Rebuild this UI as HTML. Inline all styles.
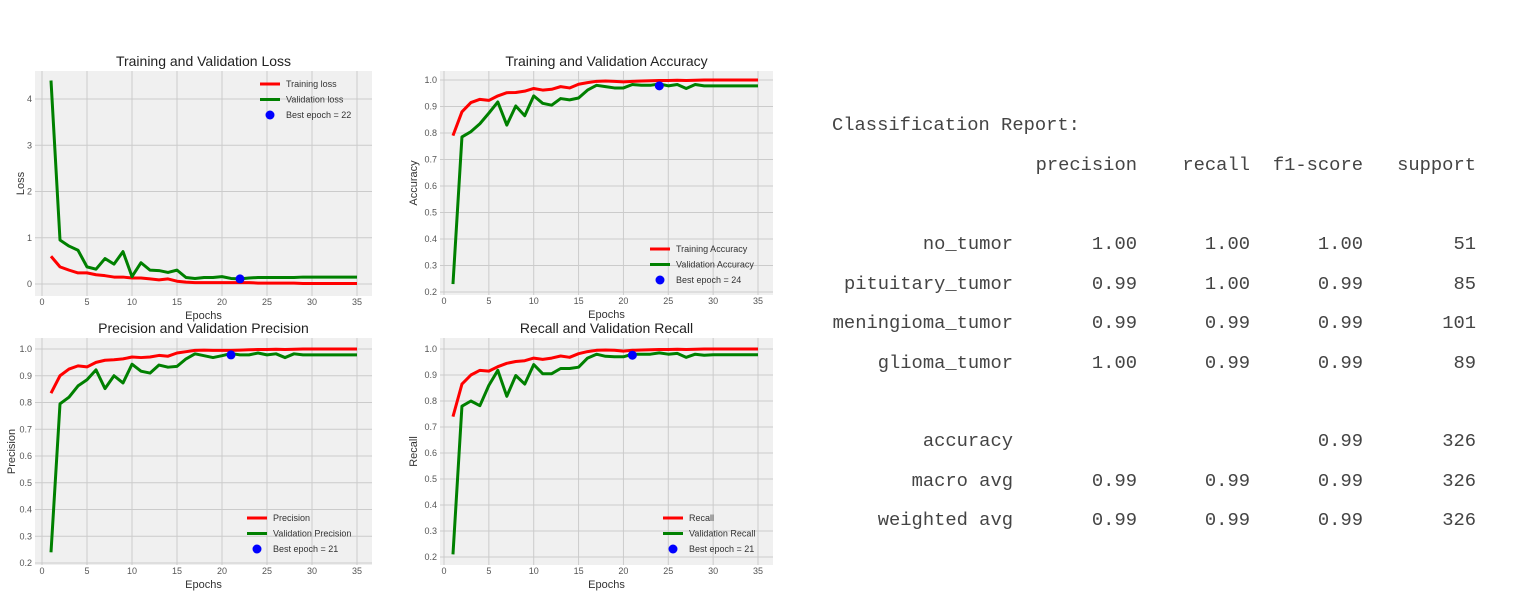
<!DOCTYPE html>
<html><head><meta charset="utf-8">
<style>
html,body{margin:0;padding:0;background:#fff;}
body{width:1528px;height:616px;position:relative;overflow:hidden;font-family:"Liberation Sans",sans-serif;}
#charts{position:absolute;left:0;top:0;}
.rep{position:absolute;font-family:"Liberation Mono",monospace;font-size:18.8px;color:#444;white-space:pre;line-height:1;}
.r{text-align:right;}
</style></head><body>
<svg id="charts" width="800" height="616"></svg>

<div class="rep" style="left:832px;top:116px">Classification Report:</div>
<div id="report"></div>

<script>
const epochs = Array.from({length:35},(_,i)=>i+1);
const lossTrain = [0.6,0.37,0.3,0.24,0.24,0.2,0.18,0.15,0.15,0.13,0.13,0.11,0.09,0.11,0.06,0.04,0.03,0.03,0.03,0.03,0.03,0.03,0.03,0.02,0.02,0.02,0.02,0.02,0.01,0.01,0.01,0.01,0.01,0.01,0.01];
const lossVal = [4.4,0.95,0.82,0.73,0.37,0.32,0.55,0.43,0.7,0.16,0.46,0.3,0.29,0.25,0.3,0.14,0.12,0.14,0.14,0.16,0.12,0.11,0.13,0.14,0.14,0.14,0.14,0.14,0.15,0.15,0.15,0.15,0.15,0.15,0.15];
const accTrain = [0.79,0.88,0.915,0.927,0.923,0.94,0.952,0.953,0.958,0.968,0.962,0.965,0.975,0.97,0.984,0.99,0.995,0.996,0.995,0.993,0.995,0.996,0.997,0.998,0.998,0.999,0.998,0.999,1,1,1,1,1,1,1];
const accVal = [0.23,0.785,0.805,0.835,0.875,0.917,0.83,0.902,0.865,0.94,0.912,0.905,0.93,0.925,0.932,0.962,0.98,0.975,0.97,0.97,0.983,0.98,0.98,0.985,0.978,0.983,0.968,0.983,0.978,0.978,0.978,0.978,0.978,0.978,0.978];
const precTrain = [0.835,0.9,0.925,0.937,0.933,0.95,0.958,0.96,0.963,0.97,0.968,0.97,0.976,0.973,0.985,0.99,0.995,0.996,0.995,0.995,0.995,0.996,0.997,0.998,0.998,0.999,0.998,0.999,1,1,1,1,1,1,1];
const precVal = [0.24,0.795,0.82,0.862,0.885,0.922,0.852,0.9,0.873,0.943,0.917,0.91,0.94,0.932,0.935,0.963,0.982,0.975,0.968,0.975,0.983,0.978,0.978,0.985,0.978,0.982,0.968,0.982,0.978,0.978,0.978,0.978,0.978,0.978,0.978];
const recTrain = [0.74,0.865,0.9,0.918,0.915,0.932,0.945,0.952,0.955,0.965,0.96,0.965,0.973,0.968,0.982,0.99,0.995,0.996,0.995,0.992,0.995,0.996,0.997,0.998,0.998,0.999,0.998,0.999,1,1,1,1,1,1,1];
const recVal = [0.21,0.78,0.8,0.782,0.86,0.918,0.818,0.898,0.865,0.94,0.905,0.905,0.925,0.925,0.93,0.965,0.98,0.972,0.97,0.97,0.98,0.98,0.98,0.985,0.98,0.983,0.968,0.98,0.976,0.978,0.978,0.978,0.978,0.978,0.978];
const bestLoss = [22,0.11];
const bestAcc = [24,0.978];
const bestPrec = [21,0.978];
const bestRec = [21,0.976];
const xTicks = [0,5,10,15,20,25,30,35];
const lossTicks = [0,1,2,3,4];
const fracTicks = [0.2,0.3,0.4,0.5,0.6,0.7,0.8,0.9,1.0];

const NS="http://www.w3.org/2000/svg";
const svg=document.getElementById('charts');
function mk(tag,attrs,parent){const e=document.createElementNS(NS,tag);for(const k in attrs)e.setAttribute(k,attrs[k]);(parent||svg).appendChild(e);return e;}

function chart(o){
  const g=mk('g',{});
  
  
  const sx=v=>o.x0+(v-0)*(o.x35-o.x0)/35;
  const sy=v=>o.yA+(v-o.vA)*(o.yB-o.yA)/(o.vB-o.vA);
  const bg=mk('rect',{x:o.fx,y:o.fy,width:o.fw,height:o.fh,fill:'#f0f0f0'},g);
  
  
  for(const t of xTicks){
    mk('line',{x1:sx(t),x2:sx(t),y1:o.fy,y2:o.fy+o.fh,stroke:'#cbcbcb','stroke-width':1},g);
    const tx=mk('text',{x:sx(t),y:o.fy+o.fh+9,'font-size':9,fill:'#555','text-anchor':'middle'},g);
    tx.textContent=t;
    
    
  }
  for(const t of o.yTicks){
    mk('line',{x1:o.fx,x2:o.fx+o.fw,y1:sy(t),y2:sy(t),stroke:'#cbcbcb','stroke-width':1},g);
    const tx=mk('text',{x:o.fx-3,y:sy(t)+3,'font-size':9,fill:'#555','text-anchor':'end'},g);
    tx.textContent=o.fmt(t);
    
    
  }
  const tt=mk('text',{x:o.fx+o.fw/2,y:o.fy-5,'font-size':14,fill:'#222','text-anchor':'middle'},g);
  tt.textContent=o.title;
  
  
  const xl=mk('text',{x:o.fx+o.fw/2,y:o.fy+o.fh+23,'font-size':11,fill:'#333','text-anchor':'middle'},g);
  xl.textContent='Epochs';
  
  
  const yl=mk('text',{x:o.ylx,y:o.fy+o.fh/2,'font-size':11,fill:'#333','text-anchor':'middle',transform:`rotate(-90 ${o.ylx} ${o.fy+o.fh/2})`},g);
  yl.textContent=o.ylabel;
  
  
  const pts=a=>a.map((v,i)=>sx(epochs[i])+','+sy(v)).join(' ');
  const l1=mk('polyline',{points:pts(o.tr),fill:'none',stroke:'#ff0000','stroke-width':3,'stroke-linejoin':'round'},g);
  
  
  const l2=mk('polyline',{points:pts(o.va),fill:'none',stroke:'#008000','stroke-width':3,'stroke-linejoin':'round'},g);
  
  
  const b=mk('circle',{cx:sx(o.best[0]),cy:sy(o.best[1]),r:4.5,fill:'#0000ff'},g);
  
  
  // legend
  const L=o.leg;
  const items=[[o.names[0],'#ff0000'],[o.names[1],'#008000'],['Best epoch = '+o.best[0],'#0000ff']];
  items.forEach((it,i)=>{
    const y=L.y+i*15.5;
    if(i<2){const ls=mk('line',{x1:L.x,x2:L.x+20,y1:y,y2:y,stroke:it[1],'stroke-width':3},g);
      }
    else {const c=mk('circle',{cx:L.x+10,cy:y,r:4.5,fill:it[1]},g);
      }
    const t=mk('text',{x:L.x+26,y:y+3,'font-size':9,fill:'#333'},g);
    t.textContent=it[0];
    
    
  });
}
const f1=v=>v.toFixed(1), f0=v=>String(v);
chart({name:'loss-chart',title:'Training and Validation Loss',ylabel:'Loss',fx:35,fy:71,fw:337,fh:225,x0:42,x35:357,vA:0,yA:284,vB:4,yB:99,yTicks:lossTicks,fmt:f0,ylx:24,tr:lossTrain,va:lossVal,best:bestLoss,names:['Training loss','Validation loss'],leg:{x:260,y:84}});
chart({name:'accuracy-chart',title:'Training and Validation Accuracy',ylabel:'Accuracy',fx:440,fy:71,fw:333,fh:224,x0:444,x35:758,vA:1,yA:80,vB:0.2,yB:292,yTicks:fracTicks,fmt:f1,ylx:417,tr:accTrain,va:accVal,best:bestAcc,names:['Training Accuracy','Validation Accuracy'],leg:{x:650,y:249}});
chart({name:'precision-chart',title:'Precision and Validation Precision',ylabel:'Precision',fx:35,fy:338,fw:337,fh:227,x0:42,x35:357,vA:1,yA:349,vB:0.2,yB:563,yTicks:fracTicks,fmt:f1,ylx:15,tr:precTrain,va:precVal,best:bestPrec,names:['Precision','Validation Precision'],leg:{x:247,y:518}});
chart({name:'recall-chart',title:'Recall and Validation Recall',ylabel:'Recall',fx:440,fy:338,fw:333,fh:227,x0:444,x35:758,vA:1,yA:349,vB:0.2,yB:557,yTicks:fracTicks,fmt:f1,ylx:417,tr:recTrain,va:recVal,best:bestRec,names:['Recall','Validation Recall'],leg:{x:663,y:518}});

// report
const repHeaders=['precision','recall','f1-score','support'];
const repRows=[['no_tumor','1.00','1.00','1.00','51'],['pituitary_tumor','0.99','1.00','0.99','85'],['meningioma_tumor','0.99','0.99','0.99','101'],['glioma_tumor','1.00','0.99','0.99','89'],['accuracy','','','0.99','326'],['macro avg','0.99','0.99','0.99','326'],['weighted avg','0.99','0.99','0.99','326']];
const rowY=[235,275,314,354,432,472,511];
const colR=[1013,1137,1250,1363,1476];
const rep=document.getElementById('report');
function cell(txt,right,top,name){
  const d=document.createElement('div');
  d.className='rep r';
  d.style.right=(1528-right)+'px';
  d.style.top=top+'px';
  d.textContent=txt;
  
  
  rep.appendChild(d);
}
repHeaders.forEach((h,i)=>cell(h,colR[i+1],156,'report-header'));
repRows.forEach((r,ri)=>r.forEach((v,ci)=>{if(v)cell(v,colR[ci],rowY[ri],ci==0?'report-row-label':'report-value');}));
</script>
</body></html>
